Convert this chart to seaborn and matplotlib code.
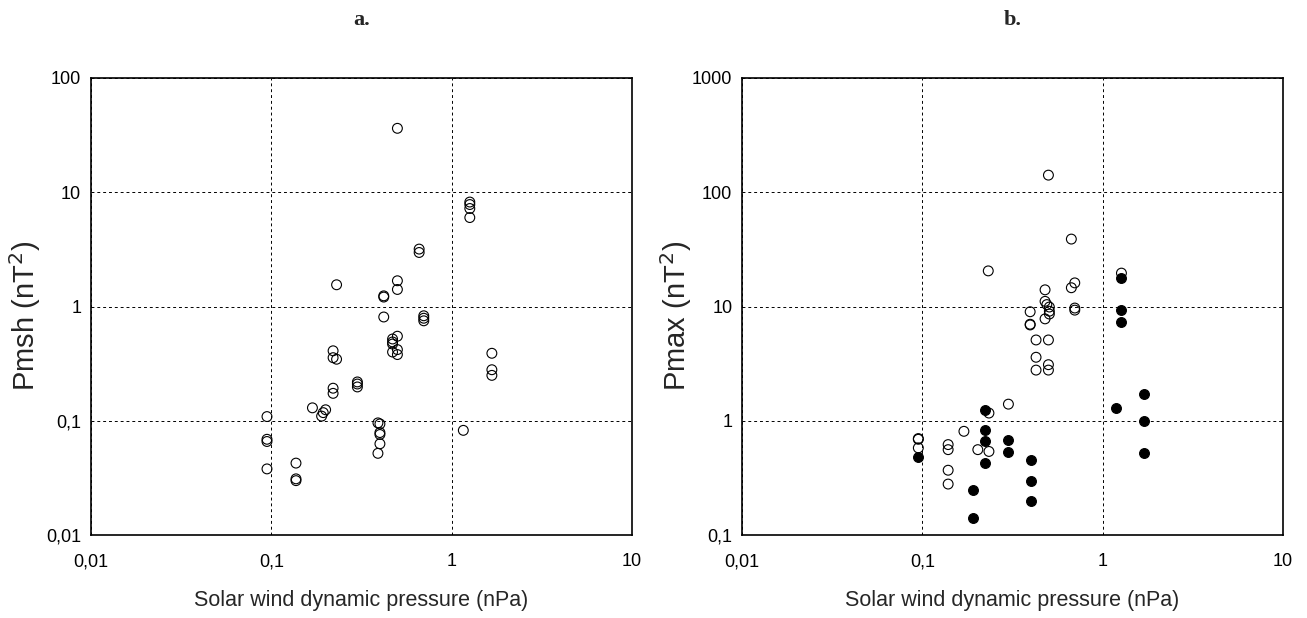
import matplotlib
matplotlib.use("Agg")
import matplotlib.pyplot as plt
import seaborn as sns

# panel a: Pmsh vs solar wind dynamic pressure
a_x = [0.50, 1.26, 1.26, 1.26, 1.26, 0.66, 0.66, 0.23, 0.50, 0.50,
       0.42, 0.42, 0.42, 0.70, 0.70, 0.70, 0.50, 0.47, 0.47, 0.47,
       0.50, 0.47, 0.50, 1.67, 1.67, 1.67, 0.22, 0.22, 0.23, 0.30,
       0.30, 0.30, 0.22, 0.22, 0.169, 0.20, 0.194, 0.19, 0.0946, 0.0946,
       0.0946, 0.0946, 0.137, 0.137, 0.137, 0.39, 0.40, 0.40, 0.40, 0.40,
       0.39, 1.16]
a_y = [36.2, 8.2, 7.8, 7.2, 6.0, 3.18, 2.97, 1.55, 1.68, 1.41,
       1.24, 1.21, 0.81, 0.83, 0.79, 0.75, 0.55, 0.52, 0.49, 0.47,
       0.42, 0.40, 0.38, 0.39, 0.28, 0.25, 0.41, 0.357, 0.346, 0.219,
       0.21, 0.198, 0.193, 0.174, 0.130, 0.125, 0.118, 0.110, 0.109, 0.069,
       0.066, 0.038, 0.0427, 0.0311, 0.030, 0.096, 0.094, 0.079, 0.076, 0.063,
       0.052, 0.0826]

# panel b: Pmax, open and filled symbols
b_open_x = [0.50, 0.67, 0.232, 1.27, 0.70, 0.67, 0.479, 0.479, 0.49, 0.506,
            0.506, 0.506, 0.479, 0.70, 0.70, 0.396, 0.396, 0.396, 0.427, 0.50,
            0.427, 0.50, 0.427, 0.50, 0.30, 0.234, 0.095, 0.095, 0.095, 0.139,
            0.139, 0.139, 0.139, 0.170, 0.203, 0.234]
b_open_y = [141, 38.9, 20.5, 19.6, 16.1, 14.6, 14.0, 11.1, 10.4, 9.9,
            9.1, 8.6, 7.8, 9.7, 9.3, 9.0, 7.0, 6.9, 5.1, 5.1,
            3.6, 3.1, 2.78, 2.78, 1.40, 1.17, 0.70, 0.69, 0.58, 0.62,
            0.56, 0.37, 0.28, 0.81, 0.56, 0.54]
b_fill_x = [1.27, 1.27, 1.27, 1.18, 1.70, 1.70, 1.70, 0.223, 0.223, 0.223,
            0.223, 0.30, 0.30, 0.40, 0.40, 0.40, 0.19, 0.19, 0.095]
b_fill_y = [17.8, 9.35, 7.25, 1.30, 1.73, 1.0, 0.52, 1.24, 0.84, 0.66,
            0.43, 0.68, 0.53, 0.455, 0.30, 0.20, 0.25, 0.14, 0.48]

x_ticks = [0.01, 0.1, 1, 10]
x_labels = ["0,01", "0,1", "1", "10"]
a_ticks = [0.01, 0.1, 1, 10, 100]
a_labels = ["0,01", "0,1", "1", "10", "100"]
b_ticks = [0.1, 1, 10, 100, 1000]
b_labels = ["0,1", "1", "10", "100", "1000"]

sns.set_style("white")
plt.rcParams["font.family"] = ["Liberation Sans", "DejaVu Sans"]

fig = plt.figure(figsize=(13.07, 6.18), dpi=100)
ax_a = fig.add_axes([0.0696, 0.134, 0.414, 0.740])
ax_b = fig.add_axes([0.5677, 0.134, 0.414, 0.740])

marker_kw = dict(s=50, linewidth=0.8, edgecolor="black", legend=False, zorder=3)

sns.scatterplot(x=a_x, y=a_y, ax=ax_a, facecolor="none", **marker_kw)
sns.scatterplot(x=b_open_x, y=b_open_y, ax=ax_b, facecolor="none", **marker_kw)
sns.scatterplot(x=b_fill_x, y=b_fill_y, ax=ax_b, color="black", **marker_kw)

panels = [
    (ax_a, a_ticks, a_labels, "Pmsh (nT$^2$)", "a."),
    (ax_b, b_ticks, b_labels, "Pmax (nT$^2$)", "b."),
]
for ax, yt, yl, ylab, title in panels:
    ax.set_xscale("log")
    ax.set_yscale("log")
    ax.set_xlim(0.01, 10)
    ax.set_ylim(yt[0], yt[-1])
    ax.set_xticks(x_ticks)
    ax.set_xticklabels(x_labels)
    ax.set_yticks(yt)
    ax.set_yticklabels(yl)
    ax.minorticks_off()
    ax.tick_params(direction="in", length=4, width=0.8, labelsize=13,
                   pad=13, colors="black")
    ax.tick_params(axis="y", pad=7)
    ax.grid(True, which="major", color="black", linestyle=(0, (3, 3)),
            linewidth=0.7)
    for sp in ax.spines.values():
        sp.set_visible(True)
        sp.set_color("black")
        sp.set_linewidth(1.2)
    ax.set_xlabel("Solar wind dynamic pressure (nPa)", fontsize=15.5,
                  labelpad=14)
    ax.set_ylabel(ylab, fontsize=21)
    ax.yaxis.set_label_coords(-0.089, 0.48)
    ax.set_title(title, fontsize=16, fontweight="bold",
                 family="Liberation Serif", pad=38)

fig.savefig("out.png", dpi=100)
